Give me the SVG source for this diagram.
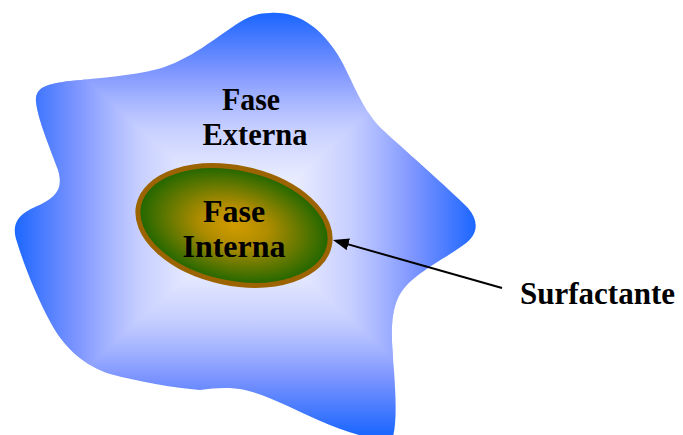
<svg xmlns="http://www.w3.org/2000/svg" width="683" height="435" viewBox="0 0 683 435">
  <style>
    .label { font-family: "Liberation Serif", "Times New Roman", serif; font-weight: bold; font-size: 32px; fill: #000; }
    .conn { stroke: #000; stroke-width: 2; fill: none; }
    .s0 { stop-color: #ffffff; }
    .s1 { stop-color: #e4e8ff; }
    .s2 { stop-color: #c6ceff; }
    .s3 { stop-color: #a2b2ff; }
    .s4 { stop-color: #7c94ff; }
    .s5 { stop-color: #4a7cff; }
    .s6 { stop-color: #1a66ff; }
  </style>
  <defs>
    <!-- rectangular (box) shading: four ramps meeting on the diagonals -->
    <linearGradient id="ramp">
      <stop offset="0" class="s0"/>
      <stop offset="0.25" class="s1"/>
      <stop offset="0.46" class="s2"/>
      <stop offset="0.6" class="s3"/>
      <stop offset="0.73" class="s4"/>
      <stop offset="0.87" class="s5"/>
      <stop offset="1" class="s6"/>
    </linearGradient>
    <linearGradient id="rampL" href="#ramp" gradientUnits="userSpaceOnUse" x1="245" y1="0" x2="13" y2="0"/>
    <linearGradient id="rampR" href="#ramp" gradientUnits="userSpaceOnUse" x1="245" y1="0" x2="477" y2="0"/>
    <linearGradient id="rampT" href="#ramp" gradientUnits="userSpaceOnUse" x1="0" y1="224" x2="0" y2="13"/>
    <linearGradient id="rampB" href="#ramp" gradientUnits="userSpaceOnUse" x1="0" y1="224" x2="0" y2="435"/>
    <radialGradient id="core" cx="0.5" cy="0.5" r="0.5">
      <stop offset="0" stop-color="#d29c00"/>
      <stop offset="0.35" stop-color="#b08c00"/>
      <stop offset="1" stop-color="#1e6600"/>
    </radialGradient>
    <clipPath id="blobClip">
      <path d="M 270,13 C 300,11 322,30 338,55 C 352,78 362,112 385,132 C 410,155 445,185 468,208 C 480,222 478,236 462,246 C 440,262 408,276 398,298 C 389,318 392,345 394,370 C 396,400 397,425 392,440 L 380,440 C 360,436 340,430 318,420 C 295,410 270,396 245,390 C 230,387 215,388 200,390 C 175,388 140,382 110,374 C 85,366 65,348 52,325 C 38,300 25,268 17,242 C 11,225 17,215 35,207 C 55,198 64,190 58,170 C 50,148 38,120 36,102 C 35,88 45,84 70,81 C 100,78 130,76 158,69 C 190,60 215,38 240,22 C 252,15 260,13 270,13 Z"/>
    </clipPath>
    <marker id="arrowHead" markerUnits="userSpaceOnUse" viewBox="0 0 16 12" refX="12" refY="6" markerWidth="16" markerHeight="12" orient="auto">
      <path d="M0,0 L16,6 L0,12 z" fill="#000"/>
    </marker>
  </defs>

  <!-- outer continuous phase -->
  <g id="fase-externa">
    <g clip-path="url(#blobClip)">
      <rect x="10" y="10" width="470" height="215" fill="url(#rampT)"/>
      <rect x="10" y="223" width="470" height="215" fill="url(#rampB)"/>
      <polygon points="245,224 10,10 10,438" fill="url(#rampL)"/>
      <polygon points="245,224 480,10 480,438" fill="url(#rampR)"/>
    </g>
    <text class="label" x="251" y="110" text-anchor="middle" textLength="58" lengthAdjust="spacingAndGlyphs">Fase</text>
    <text class="label" x="255" y="145" text-anchor="middle" textLength="105" lengthAdjust="spacingAndGlyphs">Externa</text>
  </g>

  <!-- dispersed droplet with surfactant film -->
  <g id="fase-interna">
    <ellipse cx="234" cy="225.5" rx="97.5" ry="57.5" transform="rotate(12 234 225.5)" fill="url(#core)" stroke="#9c6400" stroke-width="5"/>
    <text class="label" x="234" y="222" text-anchor="middle">Fase</text>
    <text class="label" x="234" y="257" text-anchor="middle">Interna</text>
  </g>

  <g id="surfactante">
    <text class="label" x="520" y="304" style="font-size:31px">Surfactante</text>
  </g>

  <g id="connectors">
    <line class="conn" x1="502" y1="288" x2="336.8" y2="241.1" marker-end="url(#arrowHead)"/>
  </g>
</svg>
